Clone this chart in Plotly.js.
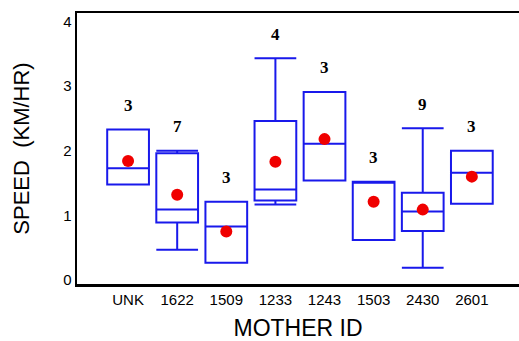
<!DOCTYPE html>
<html>
<head>
<meta charset="utf-8">
<script src="https://cdn.plot.ly/plotly-3.0.1.min.js"></script>
<style>
  body { margin: 0; background: #fff; }
  #graph { width: 519px; height: 341px; }
</style>
</head>
<body>
<div id="graph"></div>
<script>
// mother id categories and box stats
const mothers = ['UNK', '1622', '1509', '1233', '1243', '1503', '2430', '2601'];
const lowFence = [1.48, 0.47, 0.27, 1.17, 1.54, 0.62, 0.19, 1.18];
const q1 = [1.48, 0.89, 0.27, 1.23, 1.54, 0.62, 0.76, 1.18];
const medians = [1.73, 1.09, 0.83, 1.40, 2.11, 1.52, 1.06, 1.66];
const q3 = [2.33, 1.96, 1.21, 2.46, 2.91, 1.52, 1.35, 2.00];
const highFence = [2.33, 2.00, 1.21, 3.43, 2.91, 1.52, 2.35, 2.00];
const means = [1.84, 1.32, 0.75, 1.83, 2.18, 1.21, 1.09, 1.60];
const counts = ['3', '7', '3', '4', '3', '3', '9', '3'];

const azul = 'rgb(25,25,235)';

let cajas = {
    type: 'box',
    x: mothers,
    lowerfence: lowFence,
    q1: q1,
    median: medians,
    q3: q3,
    upperfence: highFence,
    width: 0.85,
    whiskerwidth: 1,
    fillcolor: 'rgba(0,0,0,0)',
    line: {color: azul, width: 2},
    boxpoints: false,
    showlegend: false,
    hoverinfo: 'skip'
};

let medias = {
    type: 'scatter',
    mode: 'markers',
    x: mothers,
    y: means,
    marker: {color: 'rgb(240,0,0)', size: 12},
    showlegend: false,
    hoverinfo: 'skip'
};

// numero de observaciones encima de cada caja
// (en eje de categorias los ids numericos se leen como indice, asi que uso i)
let notas = mothers.map((m, i) => ({
    x: i,
    y: highFence[i],
    yshift: 24,
    text: counts[i],
    showarrow: false,
    font: {family: 'Liberation Serif', size: 17, weight: 'bold', color: '#000'}
}));

let layout = {
    width: 519,
    height: 341,
    margin: {l: 77, r: 0, t: 13, b: 57},
    paper_bgcolor: '#fff',
    plot_bgcolor: '#fff',
    font: {family: 'Liberation Sans, Arial, sans-serif', color: '#000'},
    xaxis: {
        type: 'category',
        range: [-1.04, 7.96],
        showgrid: false,
        showline: true,
        linecolor: '#000',
        linewidth: 2.5,
        mirror: true,
        ticks: '',
        tickfont: {size: 15},
        title: {text: 'MOTHER ID', font: {size: 23}, standoff: 16}
    },
    yaxis: {
        range: [-0.06, 4.13],
        tickvals: [0, 1, 2, 3, 4],
        showgrid: false,
        zeroline: false,
        showline: true,
        linecolor: '#000',
        linewidth: 2.5,
        ticks: '',
        tickfont: {size: 15},
        title: {text: 'SPEED  (KM/HR)', font: {size: 22}, standoff: 28}
    },
    annotations: notas
};

Plotly.newPlot('graph', [cajas, medias], layout, {displayModeBar: false, staticPlot: true});
</script>
</body>
</html>
